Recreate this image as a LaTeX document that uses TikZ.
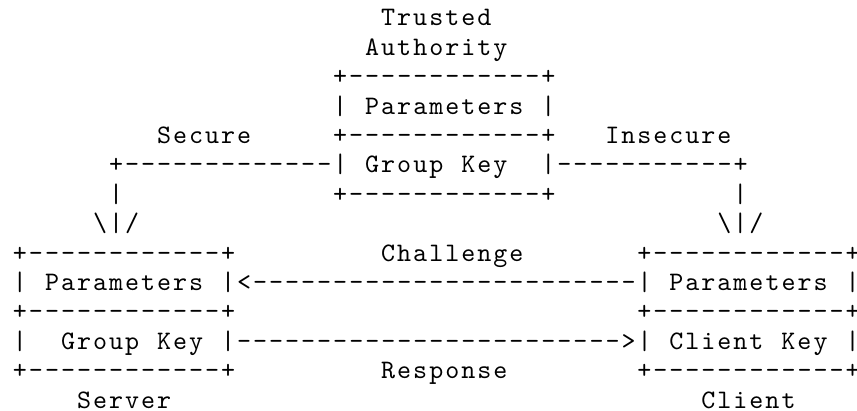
\documentclass[tikz,border=0pt]{standalone}
\usepackage{fontspec}
\setmonofont[Extension=.otf,LetterSpace=7.49]{lmmono10-regular}
\tikzset{
  asc/.style={anchor=base west,inner sep=0pt,outer sep=0pt,text depth=0pt,
    font=\ttfamily\fontsize{26.7}{29.4}\selectfont}
}
\begin{document}
\begin{tikzpicture}[x=16.01pt,y=-29.4pt]
\useasboundingbox (-13pt,25.9pt) rectangle (844pt,-384.1pt);
% trusted authority
\node[asc] (trusted) at (23,0) {Trusted};
\node[asc] (authority) at (22,1) {Authority};
\node[asc] (taTop) at (20,2) {+------------+};
\node[asc] (taLeftA) at (20,3) {|};
\node[asc] (taParams) at (22,3) {Parameters};
\node[asc] (taRightA) at (33,3) {|};
\node[asc] (secure) at (9,4) {Secure};
\node[asc] (taMid) at (20,4) {+------------+};
\node[asc] (insecure) at (37,4) {Insecure};
\node[asc] (secLine) at (6,5) {+-------------|};
\node[asc] (taKeyA) at (22,5) {Group};
\node[asc] (taKeyB) at (28,5) {Key};
\node[asc] (insecLine) at (33,5) {|-----------+};
\node[asc] (secDrop) at (6,6) {|};
\node[asc] (taBottom) at (20,6) {+------------+};
\node[asc] (insecDrop) at (45,6) {|};
\node[asc] (secTip) at (5,7) {\textbackslash|/};
\node[asc] (insecTip) at (44,7) {\textbackslash|/};
% server
\node[asc] (srvTop) at (0,8) {+------------+};
\node[asc] (srvLeftA) at (0,9) {|};
\node[asc] (srvParams) at (2,9) {Parameters};
\node[asc] (srvMid) at (0,10) {+------------+};
\node[asc] (srvLeftB) at (0,11) {|};
\node[asc] (srvKeyA) at (3,11) {Group};
\node[asc] (srvKeyB) at (9,11) {Key};
\node[asc] (srvBottom) at (0,12) {+------------+};
\node[asc] (server) at (4,13) {Server};
% challenge and response
\node[asc] (challenge) at (23,8) {Challenge};
\node[asc] (chalLine) at (13,9) {|<------------------------|};
\node[asc] (respLine) at (13,11) {|------------------------>|};
\node[asc] (response) at (23,12) {Response};
% client
\node[asc] (cliTop) at (39,8) {+------------+};
\node[asc] (cliParams) at (41,9) {Parameters};
\node[asc] (cliRightA) at (52,9) {|};
\node[asc] (cliMid) at (39,10) {+------------+};
\node[asc] (cliKeyA) at (41,11) {Client};
\node[asc] (cliKeyB) at (48,11) {Key};
\node[asc] (cliRightB) at (52,11) {|};
\node[asc] (cliBottom) at (39,12) {+------------+};
\node[asc] (client) at (43,13) {Client};
\end{tikzpicture}
\end{document}
